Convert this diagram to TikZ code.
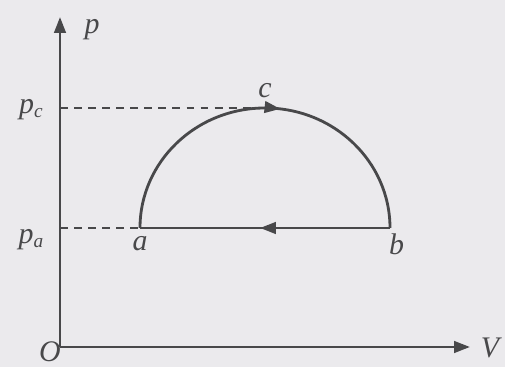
\documentclass[tikz,border=0pt]{standalone}
\usepackage{fontspec}
\setmainfont{Liberation Serif}
\usepackage{xcolor}
\usetikzlibrary{positioning,arrows.meta,decorations.markings,calc}
\definecolor{paper}{RGB}{235,234,237}
\definecolor{ink}{RGB}{72,72,74}

\begin{document}
\begin{tikzpicture}[
    every node/.style={font=\fontsize{17}{20}\selectfont\itshape, text=ink},
    axis/.style={draw=ink, line width=1.6pt, -{Triangle[length=9pt,width=6.5pt]}},
    guide/.style={draw=ink, line width=1.3pt, dash pattern=on 4.5pt off 3.5pt},
    path/.style={draw=ink, line width=1.6pt},
    midarrow/.style={postaction={decorate}, decoration={markings,
        mark=at position #1 with {\arrow{Triangle[length=9pt,width=6.5pt]}}}},
]
\fill[paper] (0,0) rectangle (10.1,7.34);
\useasboundingbox (0,0) rectangle (10.1,7.34);

% axes
\coordinate (O) at (1.2,0.4);
\coordinate (ptip) at (1.2,7.0);
\coordinate (Vtip) at (9.4,0.4);
\draw[axis] (O) -- (ptip);
\draw[axis] (O) -- (Vtip);
\node (plab) at (1.84,6.74) {p};
\node (Vlab) at (9.8,0.38) {V};
\node (Olab) at (1.0,0.3) {O};

% states
\coordinate (a) at (2.8,2.78);
\coordinate (b) at (7.8,2.78);
\coordinate (c) at (5.3,5.18);
\coordinate (pa) at (1.2,2.78);
\coordinate (pc) at (1.2,5.18);

% guides
\draw[guide] (pc) -- (c);
\draw[guide] (pa) -- (a);
\node (pclab) at (0.62,5.14) {p\raisebox{-0.3ex}{\fontsize{11}{12}\selectfont c}};
\node (palab) at (0.62,2.54) {p\raisebox{-0.3ex}{\fontsize{11}{12}\selectfont a}};

% cycle
\draw[path, midarrow=0.54] (a) arc[start angle=180, end angle=0, x radius=2.5cm, y radius=2.4cm];
\draw[path, midarrow=0.52] (b) -- (a);
\node[below=1pt of a] (alab) {a};
\node[below right=0pt and -4pt of b] (blab) {b};
\node[above=2pt of c] (clab) {c};
\end{tikzpicture}
\end{document}
